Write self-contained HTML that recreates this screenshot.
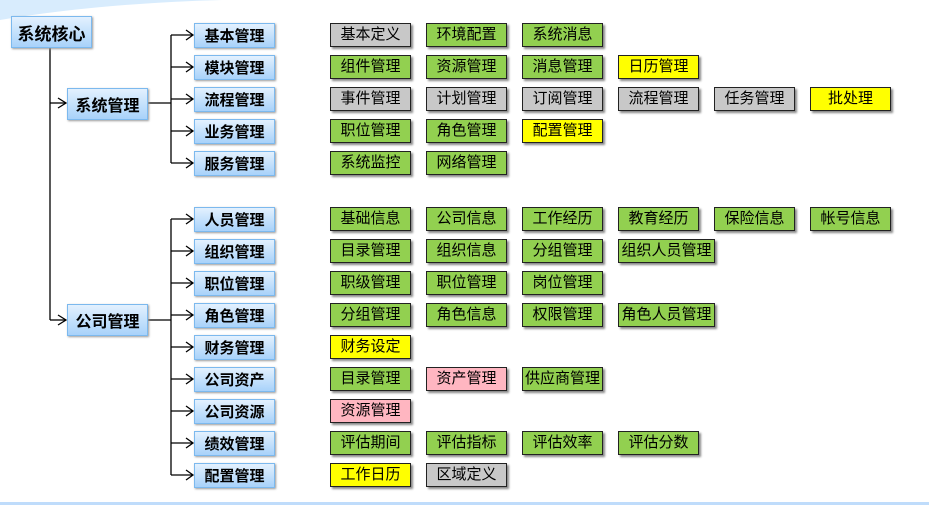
<!DOCTYPE html>
<html><head><meta charset="utf-8"><style>
body{margin:0;width:929px;height:505px;position:relative;background:#fff;overflow:hidden;font-family:"Liberation Sans","Noto Sans CJK SC",sans-serif}
.b{position:absolute;box-sizing:border-box;border:1px solid #7cb9ee;background:linear-gradient(#e3f1fe,#a8d2fa);font-weight:bold;font-size:15px;color:#000;text-align:center;box-shadow:1px 1px 2px #999;display:flex;align-items:center;justify-content:center}
.l{position:absolute;box-sizing:border-box;border:1px solid #222;font-size:15px;text-align:center;line-height:22px;height:24px;width:81px;box-shadow:2px 2px 2px #888}
.g{background:#92d050}.y{background:#ffff00}.s{background:#c8c8c8}.p{background:#ffb6c1}
</style></head><body>
<svg style="position:absolute;left:0;top:0" width="929" height="505">
<path d="M0 20 Q150 -5 350 0 L0 0Z" fill="#d8ecfd"/>
<rect x="0" y="502" width="929" height="3" fill="#bfdcfb"/>
<g stroke="#000" stroke-width="1.3" fill="none">
<line x1="50" y1="47" x2="50" y2="320"/>
<line x1="50" y1="103" x2="66" y2="103"/><path d="M58 98 L66 103 L58 108"/>
<line x1="50" y1="320" x2="66" y2="320"/><path d="M58 315 L66 320 L58 325"/>
<line x1="147" y1="103" x2="171" y2="103"/><line x1="171" y1="35" x2="171" y2="163"/>
<line x1="147" y1="320" x2="171" y2="320"/><line x1="171" y1="219" x2="171" y2="475"/>
</g>
<g stroke="#000" stroke-width="1.3" fill="none">
<path d="M171 35H193M186 30L193 35L186 40"/>
<path d="M171 67H193M186 62L193 67L186 72"/>
<path d="M171 99H193M186 94L193 99L186 104"/>
<path d="M171 131H193M186 126L193 131L186 136"/>
<path d="M171 163H193M186 158L193 163L186 168"/>
<path d="M171 219H193M186 214L193 219L186 224"/>
<path d="M171 251H193M186 246L193 251L186 256"/>
<path d="M171 283H193M186 278L193 283L186 288"/>
<path d="M171 315H193M186 310L193 315L186 320"/>
<path d="M171 347H193M186 342L193 347L186 352"/>
<path d="M171 379H193M186 374L193 379L186 384"/>
<path d="M171 411H193M186 406L193 411L186 416"/>
<path d="M171 443H193M186 438L193 443L186 448"/>
<path d="M171 475H193M186 470L193 475L186 480"/>
</g></svg>
<div class="b" style="left:11px;top:16px;width:81px;height:32px;font-size:17px">系统核心</div>
<div class="b" style="left:67px;top:88px;width:81px;height:32px;font-size:16px">系统管理</div>
<div class="b" style="left:67px;top:304px;width:81px;height:32px;font-size:16px">公司管理</div>

<div class="b" style="left:194px;top:23px;width:81px;height:25px">基本管理</div>
<div class="b" style="left:194px;top:55px;width:81px;height:25px">模块管理</div>
<div class="b" style="left:194px;top:87px;width:81px;height:25px">流程管理</div>
<div class="b" style="left:194px;top:119px;width:81px;height:25px">业务管理</div>
<div class="b" style="left:194px;top:151px;width:81px;height:25px">服务管理</div>
<div class="b" style="left:194px;top:207px;width:81px;height:25px">人员管理</div>
<div class="b" style="left:194px;top:239px;width:81px;height:25px">组织管理</div>
<div class="b" style="left:194px;top:271px;width:81px;height:25px">职位管理</div>
<div class="b" style="left:194px;top:303px;width:81px;height:25px">角色管理</div>
<div class="b" style="left:194px;top:335px;width:81px;height:25px">财务管理</div>
<div class="b" style="left:194px;top:367px;width:81px;height:25px">公司资产</div>
<div class="b" style="left:194px;top:399px;width:81px;height:25px">公司资源</div>
<div class="b" style="left:194px;top:431px;width:81px;height:25px">绩效管理</div>
<div class="b" style="left:194px;top:463px;width:81px;height:25px">配置管理</div>

<div class="l s" style="left:330px;top:23px">基本定义</div>
<div class="l g" style="left:426px;top:23px">环境配置</div>
<div class="l g" style="left:522px;top:23px">系统消息</div>

<div class="l g" style="left:330px;top:55px">组件管理</div>
<div class="l g" style="left:426px;top:55px">资源管理</div>
<div class="l g" style="left:522px;top:55px">消息管理</div>
<div class="l y" style="left:618px;top:55px">日历管理</div>

<div class="l s" style="left:330px;top:87px">事件管理</div>
<div class="l s" style="left:426px;top:87px">计划管理</div>
<div class="l s" style="left:522px;top:87px">订阅管理</div>
<div class="l s" style="left:618px;top:87px">流程管理</div>
<div class="l s" style="left:714px;top:87px">任务管理</div>
<div class="l y" style="left:810px;top:87px">批处理</div>

<div class="l g" style="left:330px;top:119px">职位管理</div>
<div class="l g" style="left:426px;top:119px">角色管理</div>
<div class="l y" style="left:522px;top:119px">配置管理</div>

<div class="l g" style="left:330px;top:151px">系统监控</div>
<div class="l g" style="left:426px;top:151px">网络管理</div>

<div class="l g" style="left:330px;top:207px">基础信息</div>
<div class="l g" style="left:426px;top:207px">公司信息</div>
<div class="l g" style="left:522px;top:207px">工作经历</div>
<div class="l g" style="left:618px;top:207px">教育经历</div>
<div class="l g" style="left:714px;top:207px">保险信息</div>
<div class="l g" style="left:810px;top:207px">帐号信息</div>

<div class="l g" style="left:330px;top:239px">目录管理</div>
<div class="l g" style="left:426px;top:239px">组织信息</div>
<div class="l g" style="left:522px;top:239px">分组管理</div>
<div class="l g" style="left:618px;top:239px;width:97px">组织人员管理</div>

<div class="l g" style="left:330px;top:271px">职级管理</div>
<div class="l g" style="left:426px;top:271px">职位管理</div>
<div class="l g" style="left:522px;top:271px">岗位管理</div>

<div class="l g" style="left:330px;top:303px">分组管理</div>
<div class="l g" style="left:426px;top:303px">角色信息</div>
<div class="l g" style="left:522px;top:303px">权限管理</div>
<div class="l g" style="left:618px;top:303px;width:97px">角色人员管理</div>

<div class="l y" style="left:330px;top:335px">财务设定</div>

<div class="l g" style="left:330px;top:367px">目录管理</div>
<div class="l p" style="left:426px;top:367px">资产管理</div>
<div class="l g" style="left:522px;top:367px">供应商管理</div>

<div class="l p" style="left:330px;top:399px">资源管理</div>

<div class="l g" style="left:330px;top:431px">评估期间</div>
<div class="l g" style="left:426px;top:431px">评估指标</div>
<div class="l g" style="left:522px;top:431px">评估效率</div>
<div class="l g" style="left:618px;top:431px">评估分数</div>

<div class="l y" style="left:330px;top:463px">工作日历</div>
<div class="l s" style="left:426px;top:463px">区域定义</div>
</body></html>
